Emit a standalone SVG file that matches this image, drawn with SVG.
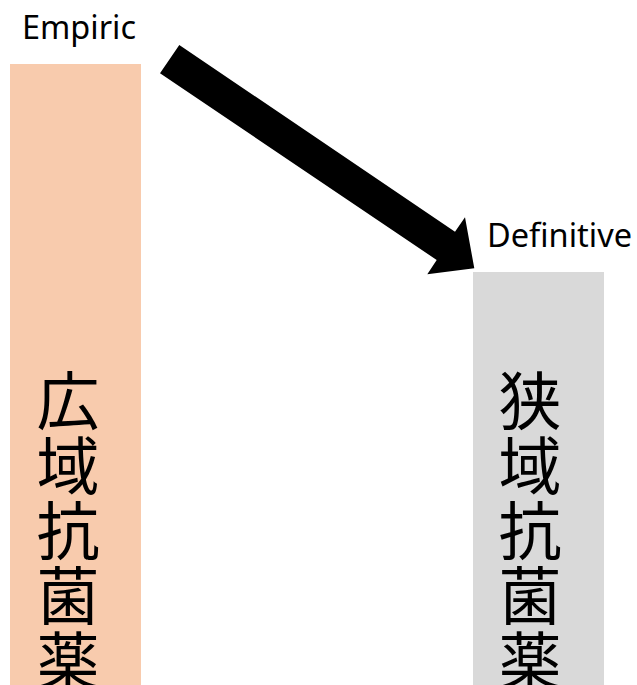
<svg xmlns="http://www.w3.org/2000/svg" width="637" height="685" viewBox="0 0 637 685">
<style>
.lbl{font-family:"Noto Sans","Open Sans","DejaVu Sans",sans-serif;font-size:32px;fill:#000}
.cjk{font-family:"Noto Sans CJK JP","Noto Sans CJK SC",sans-serif;font-size:63px;fill:#000;text-anchor:middle}
</style>
<rect width="637" height="685" fill="#fff"/>
<g id="broad">
<rect x="10" y="64" width="131" height="621" fill="#F8CBAD"/>
<text class="cjk"><tspan x="68" y="424">広</tspan><tspan x="68" y="489">域</tspan><tspan x="68" y="554">抗</tspan><tspan x="68" y="619">菌</tspan><tspan x="68" y="684">薬</tspan></text>
<text class="lbl" x="22" y="39" textLength="114" lengthAdjust="spacingAndGlyphs">Empiric</text>
</g>
<g id="narrow">
<rect x="473" y="272" width="131" height="413" fill="#D9D9D9"/>
<text class="cjk"><tspan x="530" y="424">狭</tspan><tspan x="530" y="489">域</tspan><tspan x="530" y="554">抗</tspan><tspan x="530" y="619">菌</tspan><tspan x="530" y="684">薬</tspan></text>
<text class="lbl" x="487" y="247" textLength="145" lengthAdjust="spacingAndGlyphs">Definitive</text>
</g>
<g id="connectors">
<polygon points="179.3,45 455,231.7 465,217.3 474.3,268.3 427.3,274.3 436.7,260 160,73.3" fill="#000"/>
</g>
</svg>
